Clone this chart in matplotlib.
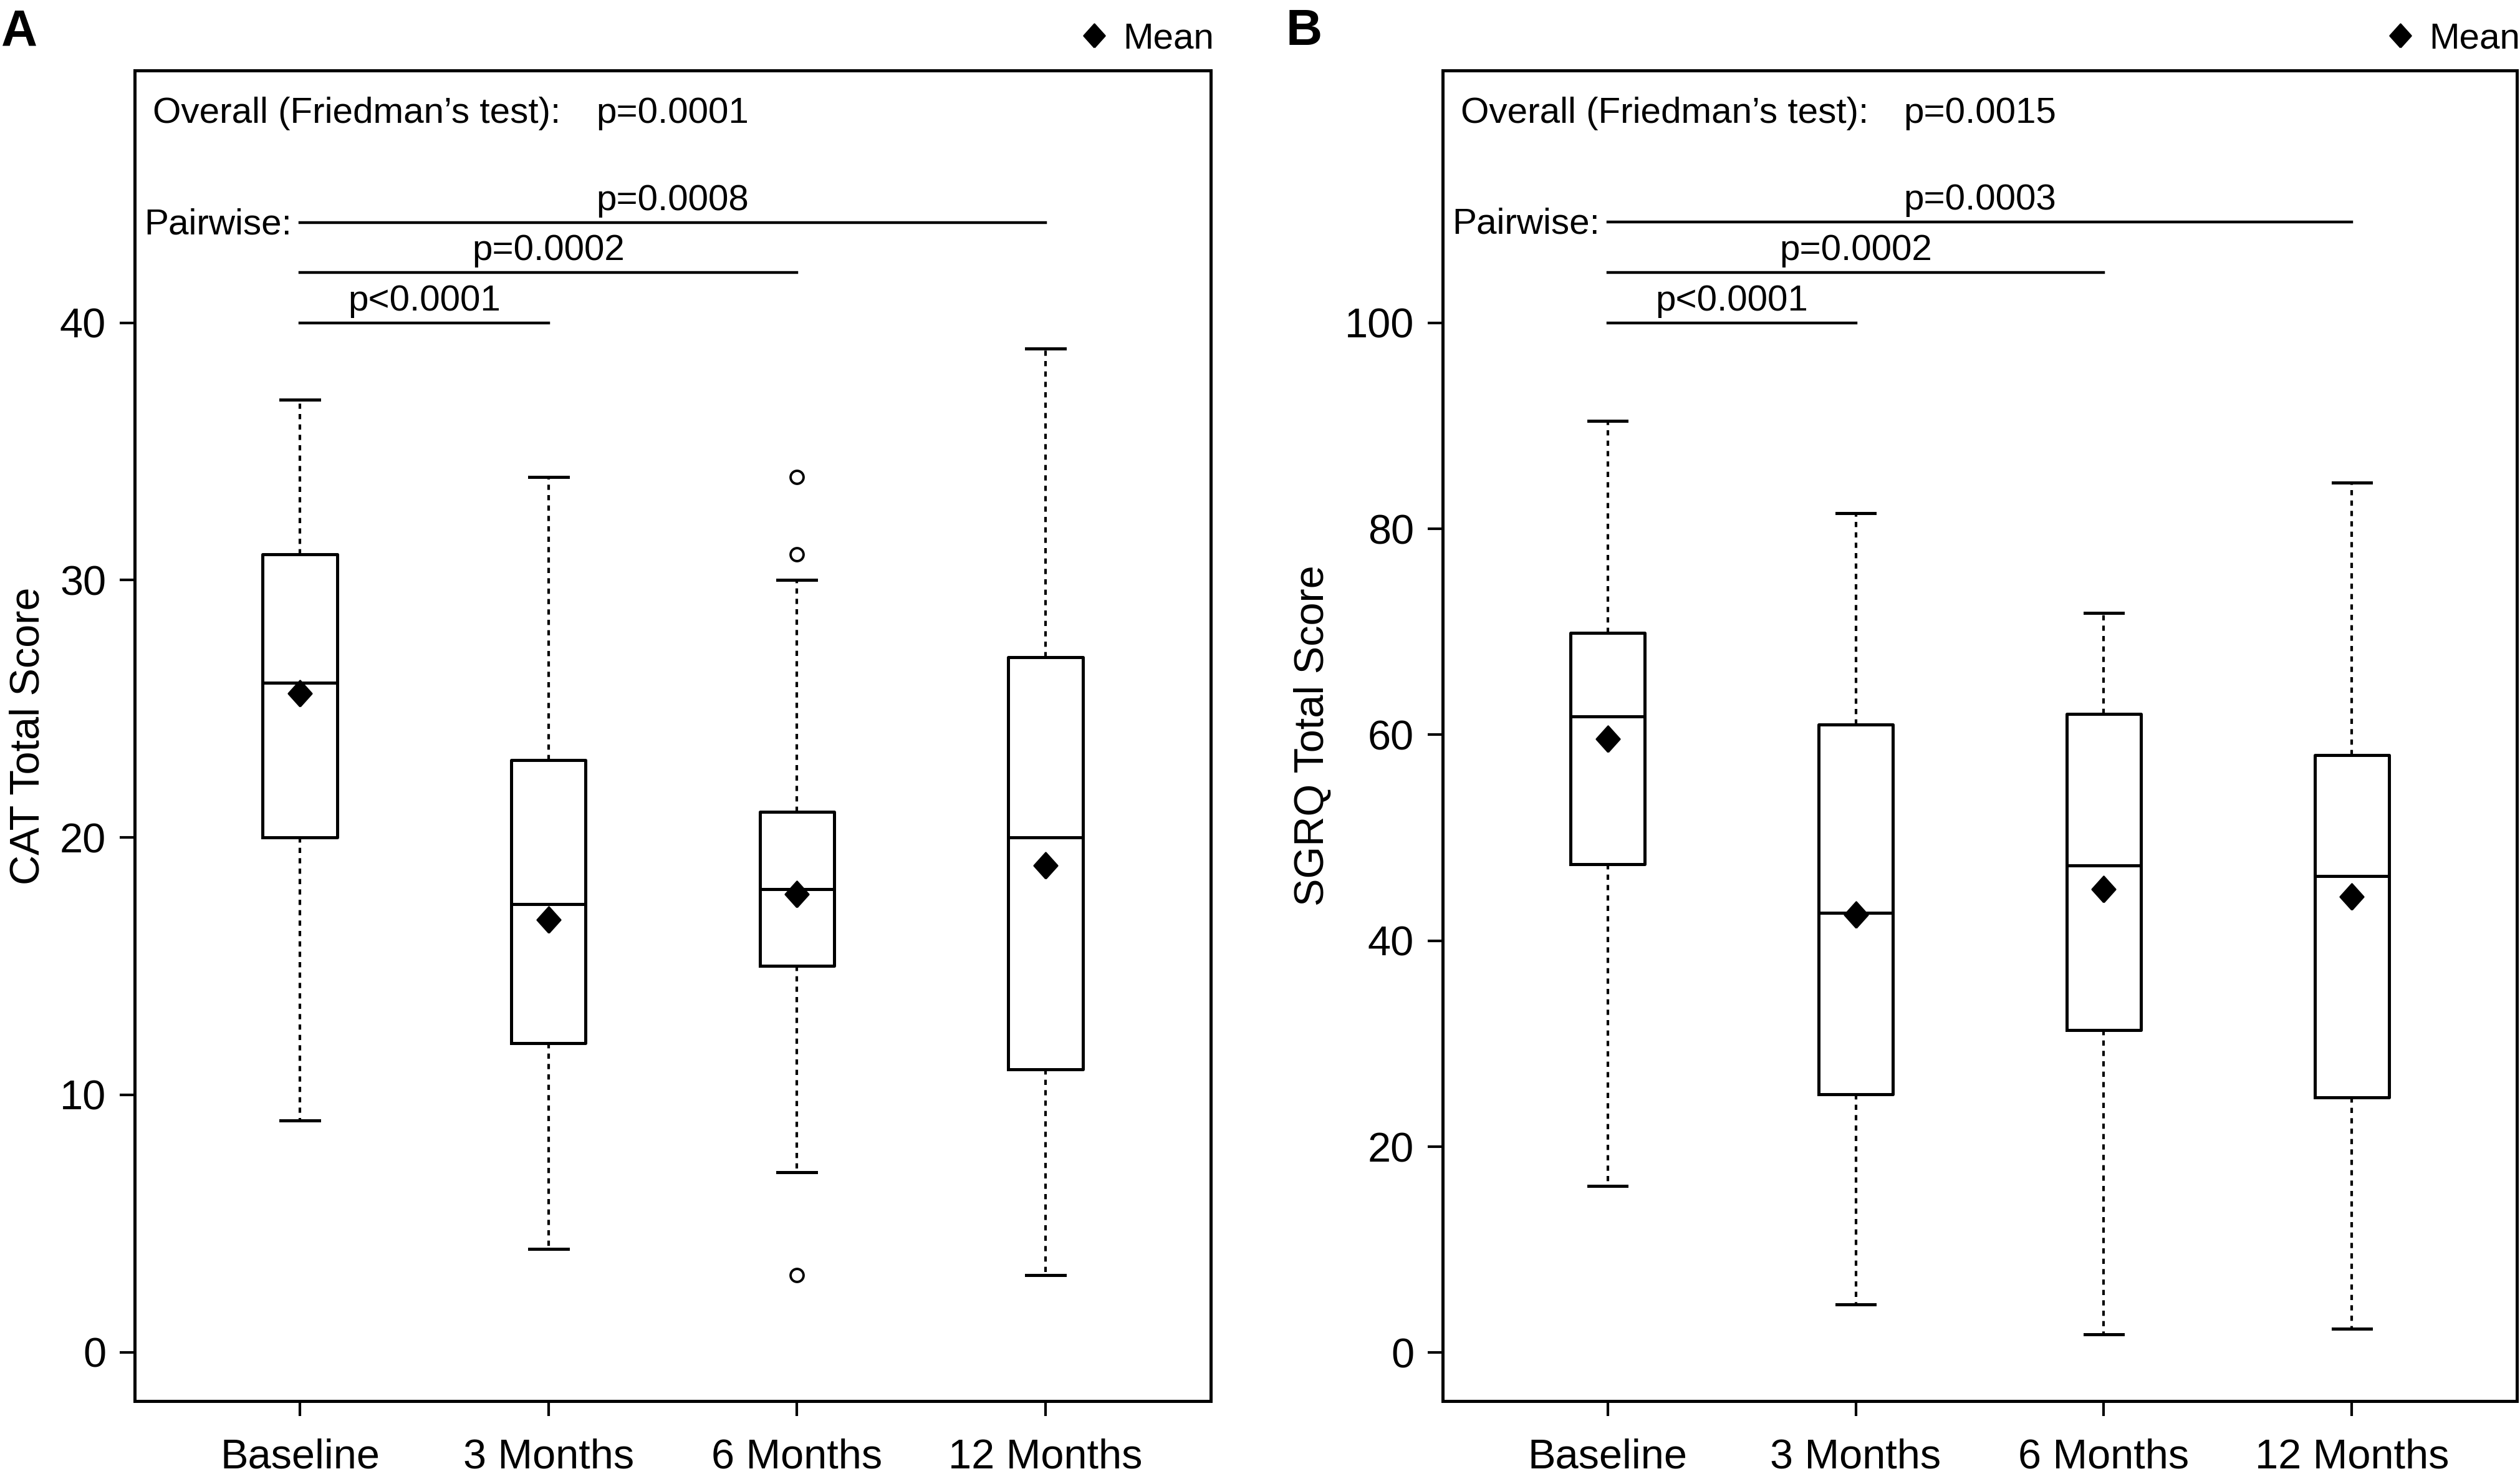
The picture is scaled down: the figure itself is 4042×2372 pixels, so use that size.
import matplotlib.pyplot as plt
from matplotlib.lines import Line2D

plt.rcParams['font.family'] = ['Liberation Sans', 'DejaVu Sans']

groups = ['Baseline', '3 Months', '6 Months', '12 Months']

# CAT total score (panel A)
cat_low = [9, 4, 7, 3]
cat_q1 = [20, 12, 15, 11]
cat_med = [26, 17.4, 18, 20]
cat_q3 = [31, 23, 21, 27]
cat_high = [37, 34, 30, 39]
cat_mean = [25.6, 16.8, 17.8, 18.9]
cat_outliers = [[], [], [34, 31, 3], []]
cat_overall = 'p=0.0001'
cat_pairs = [(1, 4, 'p=0.0008'), (1, 3, 'p=0.0002'), (1, 2, 'p<0.0001')]
cat_pair_levels = [43.9, 41.95, 40]

# SGRQ total score (panel B)
sgrq_low = [16.2, 4.7, 1.8, 2.3]
sgrq_q1 = [47.4, 25.1, 31.3, 24.8]
sgrq_med = [61.8, 42.7, 47.3, 46.3]
sgrq_q3 = [69.9, 61, 62, 58]
sgrq_high = [90.5, 81.5, 71.8, 84.5]
sgrq_mean = [59.6, 42.5, 45, 44.3]
sgrq_outliers = [[], [], [], []]
sgrq_overall = 'p=0.0015'
sgrq_pairs = [(1, 4, 'p=0.0003'), (1, 3, 'p=0.0002'), (1, 2, 'p<0.0001')]
sgrq_pair_levels = [109.8, 104.9, 100]

diamond = [(0, -1), (0.9, 0), (0, 1), (-0.9, 0), (0, -1)]
FS_TXT = 21
FS_AX = 24


def draw_panel(ax, low, q1, med, q3, high, mean, outliers, ylim, yticks,
               ylabel, overall, pairs, levels, label_x):
    stats = []
    for i in range(len(groups)):
        stats.append(dict(whislo=low[i], q1=q1[i], med=med[i], q3=q3[i],
                          whishi=high[i], mean=mean[i], fliers=outliers[i]))
    pos = list(range(1, len(groups) + 1))
    ax.bxp(stats, positions=pos, widths=0.3, capwidths=0.155, showmeans=True,
           boxprops=dict(color='black', linewidth=1.8),
           medianprops=dict(color='black', linewidth=1.8),
           whiskerprops=dict(color='black', linewidth=1.5, linestyle=(0, (2, 2))),
           capprops=dict(color='black', linewidth=1.8),
           meanprops=dict(marker=diamond, markerfacecolor='black',
                          markeredgecolor='black', markersize=15),
           flierprops=dict(marker='o', markerfacecolor='white',
                           markeredgecolor='black', markersize=7.5,
                           markeredgewidth=1.4))

    ax.set_xlim(0.335, 4.665)
    ax.set_ylim(*ylim)
    ax.set_yticks(yticks)
    ax.set_xticks(pos)
    ax.set_xticklabels(groups)
    ax.tick_params(axis='both', labelsize=FS_AX, length=8.5, width=1.5,
                   direction='out', color='black')
    ax.tick_params(axis='x', pad=13)
    ax.tick_params(axis='y', pad=8)
    for sp in ax.spines.values():
        sp.set_linewidth(1.8)
    ax.set_ylabel(ylabel, fontsize=FS_AX)
    ax.yaxis.set_label_coords(label_x, 0.5)

    # p-value annotations
    ax.text(0.0168, 0.9606, "Overall (Friedman\u2019s test):", transform=ax.transAxes,
            fontsize=FS_TXT, va='baseline', ha='left')
    ax.text(0.429, 0.9606, overall, transform=ax.transAxes,
            fontsize=FS_TXT, va='baseline', ha='left')
    ax.annotate('Pairwise:', xy=(0.009, levels[0]),
                xycoords=('axes fraction', 'data'), xytext=(0, -6.8),
                textcoords='offset points', fontsize=FS_TXT, va='baseline', ha='left')
    for (a, b, txt), lev in zip(pairs, levels):
        ax.plot([a, b], [lev, lev], color='black', linewidth=1.6)
        ax.annotate(txt, xy=((a + b) / 2, lev), xytext=(0, 7.2),
                    textcoords='offset points', fontsize=FS_TXT,
                    va='baseline', ha='center')

    # mean legend above the frame
    h = Line2D([], [], marker=diamond, linestyle='none', color='black', markersize=13.5)
    ax.legend(handles=[h], labels=['Mean'], loc='lower right', bbox_to_anchor=(1.003, 1.011),
              frameon=False, borderpad=0, borderaxespad=0, handlelength=1.0,
              handletextpad=0.3, fontsize=FS_TXT)


fig = plt.figure(figsize=(20.21, 11.86), dpi=200)
ax1 = fig.add_axes([0.05344, 0.0527, 0.42702, 0.89966])
ax2 = fig.add_axes([0.57249, 0.0527, 0.42627, 0.89966])

draw_panel(ax1, cat_low, cat_q1, cat_med, cat_q3, cat_high, cat_mean, cat_outliers,
           (-1.9, 49.8), [0, 10, 20, 30, 40], 'CAT Total Score',
           cat_overall, cat_pairs, cat_pair_levels, -0.081)
draw_panel(ax2, sgrq_low, sgrq_q1, sgrq_med, sgrq_q3, sgrq_high, sgrq_mean, sgrq_outliers,
           (-4.7, 124.5), [0, 20, 40, 60, 80, 100], 'SGRQ Total Score',
           sgrq_overall, sgrq_pairs, sgrq_pair_levels, -0.1027)

fig.text(0.0005, 0.9696, 'A', fontsize=29, fontweight='bold', va='baseline')
fig.text(0.5104, 0.9696, 'B', fontsize=29, fontweight='bold', va='baseline')

fig.savefig('out.png', dpi=200)
